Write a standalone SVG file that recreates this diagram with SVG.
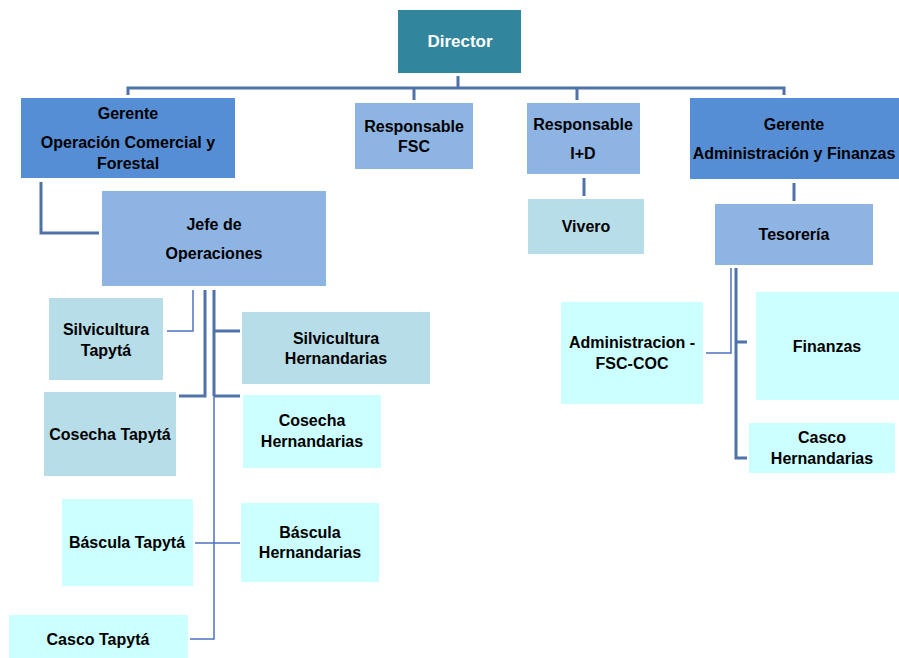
<svg xmlns="http://www.w3.org/2000/svg" width="899" height="658" viewBox="0 0 899 658">
<style>
text{font-family:"Liberation Sans",Arial,sans-serif;font-weight:bold;font-size:16px;fill:#000;text-anchor:middle}
.w{fill:#fff;font-size:17px}
.dir{fill:#31859C}
.g{fill:#558ED5}
.m{fill:#8EB4E3}
.l{fill:#B7DDE8}
.c{fill:#CCFFFF}
.k{stroke:#4F72A8;stroke-width:3;fill:none}
.t{stroke:#4F72C0;stroke-width:1.5;fill:none}
</style>
<g id="connectors">
<path class="k" d="M458 76V88M128 95V88H784V95M414 88V100M577 88V100"/>
<path class="k" d="M584 178V196M794 183V201"/>
<path class="k" d="M41 182V233H99"/>
<path class="t" d="M193 290V331H167"/>
<path class="k" d="M205 290V396H179"/>
<path class="k" d="M214 290V396M214 331H240M214 396H240"/>
<path class="t" d="M214 396V639H190M195 543H240"/>
<path class="t" d="M731 268V353H706"/>
<path class="k" d="M736 268V458H747M736 342H747"/>
</g>
<g id="director"><rect class="dir" x="398" y="10" width="123" height="63"/><text class="w" x="460" y="47">Director</text></g>
<g id="gerente-ocf"><rect class="g" x="21" y="98" width="214" height="80"/><text x="128" y="119">Gerente</text><text x="128" y="148">Operación Comercial y</text><text x="128" y="169">Forestal</text></g>
<g id="resp-fsc"><rect class="m" x="355" y="103" width="118" height="66"/><text x="414" y="132">Responsable</text><text x="414" y="152">FSC</text></g>
<g id="resp-id"><rect class="m" x="527" y="103" width="113" height="71"/><text x="583" y="130">Responsable</text><text x="583" y="159">I+D</text></g>
<g id="gerente-af"><rect class="g" x="690" y="98" width="209" height="81"/><text x="794" y="130">Gerente</text><text x="794" y="159">Administración y Finanzas</text></g>
<g id="vivero"><rect class="l" x="528" y="199" width="116" height="55"/><text x="586" y="232">Vivero</text></g>
<g id="tesoreria"><rect class="m" x="715" y="204" width="158" height="61"/><text x="794" y="240">Tesorería</text></g>
<g id="jefe"><rect class="m" x="102" y="191" width="224" height="95"/><text x="214" y="230">Jefe de</text><text x="214" y="259">Operaciones</text></g>
<g id="silv-tapyta"><rect class="l" x="49" y="298" width="114" height="82"/><text x="106" y="335">Silvicultura</text><text x="106" y="356">Tapytá</text></g>
<g id="cosecha-tapyta"><rect class="l" x="44" y="392" width="132" height="84"/><text x="110" y="440">Cosecha Tapytá</text></g>
<g id="bascula-tapyta"><rect class="c" x="62" y="499" width="131" height="87"/><text x="127" y="548">Báscula Tapytá</text></g>
<g id="casco-tapyta"><rect class="c" x="9" y="615" width="179" height="43"/><text x="98" y="645">Casco Tapytá</text></g>
<g id="silv-hern"><rect class="l" x="242" y="312" width="188" height="72"/><text x="336" y="344">Silvicultura</text><text x="336" y="364">Hernandarias</text></g>
<g id="cosecha-hern"><rect class="c" x="243" y="395" width="138" height="73"/><text x="312" y="426">Cosecha</text><text x="312" y="447">Hernandarias</text></g>
<g id="bascula-hern"><rect class="c" x="241" y="503" width="138" height="79"/><text x="310" y="538">Báscula</text><text x="310" y="558">Hernandarias</text></g>
<g id="admin-fsc"><rect class="c" x="561" y="302" width="142" height="102"/><text x="632" y="348">Administracion -</text><text x="632" y="369">FSC-COC</text></g>
<g id="finanzas"><rect class="c" x="756" y="292" width="143" height="108"/><text x="827" y="352">Finanzas</text></g>
<g id="casco-hern"><rect class="c" x="749" y="423" width="146" height="50"/><text x="822" y="443">Casco</text><text x="822" y="464">Hernandarias</text></g>
</svg>
